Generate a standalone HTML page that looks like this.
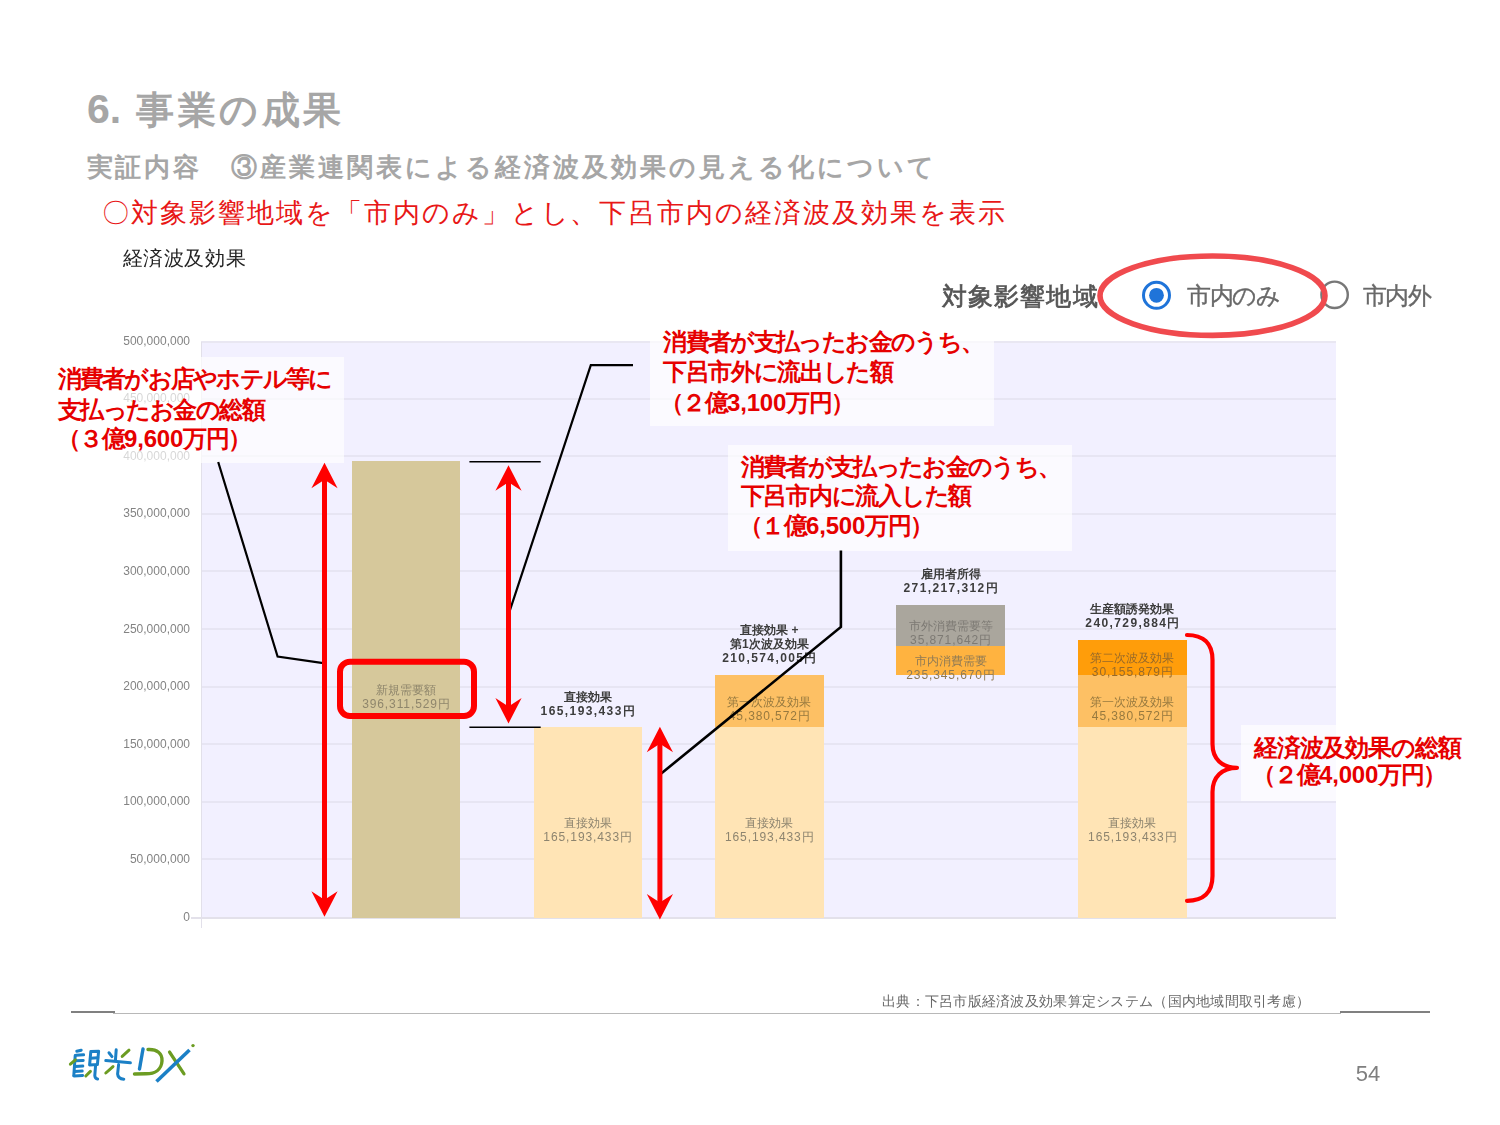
<!DOCTYPE html>
<html lang="ja">
<head>
<meta charset="utf-8">
<title>6. 事業の成果</title>
<style>
html,body{margin:0;padding:0;background:#fff;}
body{width:1500px;height:1125px;position:relative;overflow:hidden;font-family:"Liberation Sans",sans-serif;color:#000;}
.t{position:absolute;white-space:nowrap;line-height:1;margin:0;padding:0;}
.j{text-align:justify;text-align-last:justify;}
.title{left:87px;top:88.5px;font-size:38px;font-weight:bold;color:#a6a6a6;letter-spacing:3.6px;}
.sub{left:86.5px;top:153.5px;width:847px;font-size:26px;font-weight:bold;color:#a6a6a6;}
.lead{left:102.3px;top:199.5px;width:902.5px;font-size:27px;color:#e81717;}
.ctitle{left:122.5px;top:248px;width:123px;font-size:20px;color:#222;}
/* chart */
.plot{position:absolute;left:201px;top:341.3px;width:1135px;height:577.7px;background:#f2f0ff;}
.grid{position:absolute;left:0;width:1135px;height:2px;background:#e7e5f3;}
.ax{position:absolute;background:#e2e0ea;}
.yl{position:absolute;left:90px;width:100px;text-align:right;font-size:12px;line-height:12px;color:#838383;white-space:nowrap;}
.bar{position:absolute;width:108.5px;}
.bl{position:absolute;width:160px;text-align:center;font-size:12px;line-height:14px;color:#8d846f;white-space:nowrap;letter-spacing:.9px;}
.bl b{font-weight:normal;letter-spacing:0;}
.hl{position:absolute;width:180px;text-align:center;font-size:12px;line-height:14px;color:#3c3c3c;font-weight:bold;white-space:nowrap;letter-spacing:1.4px;}
.hl b{letter-spacing:0;}
.soft{filter:blur(.45px);}
/* annotations */
.box{position:absolute;background:rgba(255,255,255,.68);}
.an{position:absolute;white-space:nowrap;line-height:1;font-size:24px;font-weight:bold;color:#e60000;letter-spacing:-3px;}
.an i{font-style:normal;letter-spacing:-.2px;}
.an3{letter-spacing:-1.5px;}
svg{position:absolute;left:0;top:0;}
</style>
</head>
<body>

<div class="t title"><span style="display:inline-block;width:49px;font-size:41px;letter-spacing:0;">6.</span>事業の成果</div>
<div class="t j sub">実証内容　③産業連関表による経済波及効果の見える化について</div>
<div class="t j lead">〇対象影響地域を「市内のみ」とし、下呂市内の経済波及効果を表示</div>
<div class="t j ctitle soft">経済波及効果</div>

<!-- CHART-START -->
<div class="soft">
<div class="yl" style="top:910.5px">0</div>
<div class="yl" style="top:852.9px">50,000,000</div>
<div class="yl" style="top:795.3px">100,000,000</div>
<div class="yl" style="top:737.8px">150,000,000</div>
<div class="yl" style="top:680.2px">200,000,000</div>
<div class="yl" style="top:622.6px">250,000,000</div>
<div class="yl" style="top:565.0px">300,000,000</div>
<div class="yl" style="top:507.4px">350,000,000</div>
<div class="yl" style="top:449.9px">400,000,000</div>
<div class="yl" style="top:392.3px">450,000,000</div>
<div class="yl" style="top:334.7px">500,000,000</div>
</div>
<div class="plot">
<div class="grid" style="top:0;height:1.7px;background:#e9e7f2"></div>
<div class="grid" style="top:517.1px"></div>
<div class="grid" style="top:459.5px"></div>
<div class="grid" style="top:402.0px"></div>
<div class="grid" style="top:344.4px"></div>
<div class="grid" style="top:286.8px"></div>
<div class="grid" style="top:229.2px"></div>
<div class="grid" style="top:171.6px"></div>
<div class="grid" style="top:114.1px"></div>
<div class="grid" style="top:56.5px"></div>
</div>
<div class="ax" style="left:200.5px;top:342px;width:1px;height:586px"></div>
<div class="ax" style="left:191px;top:916.8px;width:1145px;height:2.2px;background:#e3e1ea"></div>
<div class="bar" style="left:351.8px;top:460.6px;height:457.4px;background:#d6c89b"></div>
<div class="bar" style="left:533.5px;top:727.3px;height:190.7px;background:#ffe4b5"></div>
<div class="bar" style="left:715.0px;top:674.5px;height:53.8px;background:#fdc064"></div>
<div class="bar" style="left:715.0px;top:727.3px;height:190.7px;background:#ffe4b5"></div>
<div class="bar" style="left:896.4px;top:604.7px;height:42.3px;background:#aaa69d"></div>
<div class="bar" style="left:896.4px;top:646.0px;height:28.8px;background:#ffb340"></div>
<div class="bar" style="left:1078.2px;top:639.8px;height:35.7px;background:#ff9d0a"></div>
<div class="bar" style="left:1078.2px;top:674.5px;height:53.8px;background:#fdc064"></div>
<div class="bar" style="left:1078.2px;top:727.3px;height:190.7px;background:#ffe4b5"></div>
<div class="soft">
<div class="bl" style="left:326.0px;top:682.8px;color:#8f866c"><b>新規需要額</b><br>396,311,529<b>円</b></div>
<div class="bl" style="left:507.7px;top:816.1px"><b>直接効果</b><br>165,193,433<b>円</b></div>
<div class="bl" style="left:689.3px;top:816.1px"><b>直接効果</b><br>165,193,433<b>円</b></div>
<div class="bl" style="left:689.3px;top:694.9px;color:#97793f"><b>第一次波及効果</b><br>45,380,572<b>円</b></div>
<div class="bl" style="left:870.6px;top:654.2px;color:#8f7a55"><b>市内消費需要</b><br>235,345,670<b>円</b></div>
<div class="bl" style="left:870.6px;top:619.3px;color:#7d7a74"><b>市外消費需要等</b><br>35,871,642<b>円</b></div>
<div class="bl" style="left:1052.4px;top:816.1px"><b>直接効果</b><br>165,193,433<b>円</b></div>
<div class="bl" style="left:1052.4px;top:694.9px;color:#97793f"><b>第一次波及効果</b><br>45,380,572<b>円</b></div>
<div class="bl" style="left:1052.4px;top:651.1px;color:#96692a"><b>第二次波及効果</b><br>30,155,879<b>円</b></div>
<div class="hl" style="left:497.7px;top:689.7px"><b>直接効果</b><br>165,193,433<b>円</b></div>
<div class="hl" style="left:679.3px;top:622.9px"><b>直接効果 +</b><br><b>第1次波及効果</b><br>210,574,005<b>円</b></div>
<div class="hl" style="left:860.6px;top:567.1px"><b>雇用者所得</b><br>271,217,312<b>円</b></div>
<div class="hl" style="left:1042.4px;top:602.2px"><b>生産額誘発効果</b><br>240,729,884<b>円</b></div>
</div>
<!-- CHART-END -->

<!-- ANNOT-START -->
<!-- radio row -->
<div class="t j soft" style="left:941.5px;top:283.5px;width:156px;font-size:25px;color:#555;-webkit-text-stroke:.7px #555;">対象影響地域</div>
<div class="t j soft" style="left:1187.2px;top:283.5px;width:91px;font-size:24px;color:#686868;letter-spacing:-2.5px;-webkit-text-stroke:.35px #686868;">市内のみ</div>
<div class="t j soft" style="left:1362.8px;top:283.5px;width:66.9px;font-size:24px;color:#686868;letter-spacing:-2.5px;-webkit-text-stroke:.35px #686868;">市内外</div>

<!-- translucent annotation boxes -->
<div class="box" style="left:50px;top:357px;width:294px;height:106px;"></div>
<div class="box" style="left:650px;top:324px;width:344px;height:102px;"></div>
<div class="box" style="left:728px;top:445px;width:344px;height:105.5px;"></div>
<div class="box" style="left:1241px;top:725px;width:230px;height:75.5px;"></div>

<!-- annotation 1 -->
<div class="an j" style="left:57.6px;top:366.7px;width:272.7px;">消費者がお店やホテル等に</div>
<div class="an j" style="left:57.6px;top:397.5px;width:205.4px;">支払ったお金の総額</div>
<div class="an an3" style="left:56.6px;top:427.1px;">（３億<i>9,600</i>万円）</div>
<!-- annotation 2 -->
<div class="an j" style="left:663.2px;top:329.5px;width:318.8px;">消費者が支払ったお金のうち、</div>
<div class="an j" style="left:663.2px;top:360.2px;width:227.6px;">下呂市外に流出した額</div>
<div class="an an3" style="left:659.6px;top:390.8px;">（２億<i>3,100</i>万円）</div>
<!-- annotation 3 -->
<div class="an j" style="left:740.7px;top:454.5px;width:318.3px;">消費者が支払ったお金のうち、</div>
<div class="an j" style="left:740.7px;top:483.8px;width:228.6px;">下呂市内に流入した額</div>
<div class="an an3" style="left:738.6px;top:514.1px;">（１億<i>6,500</i>万円）</div>
<!-- annotation 4 -->
<div class="an j" style="left:1254px;top:735.5px;width:204.6px;">経済波及効果の総額</div>
<div class="an an3" style="left:1251.6px;top:762.9px;">（２億<i>4,000</i>万円）</div>

<svg width="1500" height="1125" viewBox="0 0 1500 1125">
  <!-- radio buttons -->
  <g class="soft">
    <circle cx="1156.5" cy="295.3" r="13" fill="#fff" stroke="#1f74d9" stroke-width="3"/>
    <circle cx="1156.5" cy="295.3" r="7.4" fill="#1f74d9"/>
    <circle cx="1334.6" cy="294.8" r="13.2" fill="#fff" stroke="#777" stroke-width="2.4"/>
  </g>
  <!-- red ellipse highlight -->
  <ellipse cx="1212.5" cy="295.7" rx="112.5" ry="39.7" fill="none" stroke="#f04a4e" stroke-width="5.6"/>

  <!-- black leader lines -->
  <g fill="none" stroke="#000" stroke-linejoin="miter">
    <polyline points="218.2,462 277.6,656.6 325,663.4" stroke-width="2.2"/>
    <polyline points="633,365.2 590.8,365.2 509.9,610.4" stroke-width="2.2"/>
    <polyline points="840.9,550.4 840.9,627 660,774.5" stroke-width="2.6"/>
    <line x1="469.4" y1="461.7" x2="540.7" y2="461.7" stroke-width="1.5"/>
    <line x1="469.4" y1="727.3" x2="540.7" y2="727.3" stroke-width="1.5"/>
  </g>

  <!-- red arrows -->
  <g fill="#ff0000" stroke="none">
    <!-- arrow 1 -->
    <rect x="322" y="475" width="5" height="430"/>
    <path d="M324.5 462.7 L337.6 488.2 L324.5 479.7 L311.4 488.2 Z"/>
    <path d="M324.5 916.8 L337.6 891.3 L324.5 899.8 L311.4 891.3 Z"/>
    <!-- arrow 2 -->
    <rect x="506" y="478" width="5" height="232"/>
    <path d="M508.5 465.2 L521.6 490.7 L508.5 482.2 L495.4 490.7 Z"/>
    <path d="M508.5 723.6 L521.6 698.1 L508.5 706.6 L495.4 698.1 Z"/>
    <!-- arrow 3 -->
    <rect x="657.4" y="740" width="5" height="167"/>
    <path d="M659.9 726.8 L673 752.3 L659.9 743.8 L646.8 752.3 Z"/>
    <path d="M659.9 919.6 L673 894.1 L659.9 902.6 L646.8 894.1 Z"/>
  </g>

  <!-- red rounded rectangle -->
  <rect x="340" y="661.7" width="134" height="54.3" rx="10" ry="10" fill="none" stroke="#ff0000" stroke-width="6"/>

  <!-- red brace -->
  <path d="M1187 635 C1203 635 1212.5 643 1212.5 660 L1212.5 744 C1212.5 759 1222 767.8 1237 767.8 C1222 767.8 1212.5 777 1212.5 792 L1212.5 876 C1212.5 893 1203 900.8 1187 900.8"
        fill="none" stroke="#ff0000" stroke-width="4.2" stroke-linecap="round" stroke-linejoin="round"/>
</svg>
<!-- ANNOT-END -->

<!-- FOOTER-START -->
<div class="t j soft" style="left:882px;top:993.5px;width:428px;font-size:14px;color:#686868;">出典：下呂市版経済波及効果算定システム（国内地域間取引考慮）</div>
<div style="position:absolute;left:113px;top:1012.6px;width:1228px;height:1.2px;background:#b8b8b8;"></div>
<div style="position:absolute;left:71px;top:1010.7px;width:44px;height:2.8px;background:#808080;"></div>
<div style="position:absolute;left:1340px;top:1010.7px;width:89.5px;height:2.8px;background:#808080;"></div>
<div class="t" style="left:1355.8px;top:1063.2px;font-size:22px;color:#7f7f7f;">54</div>

<!-- logo: 観光DX -->
<svg width="1500" height="1125" viewBox="0 0 1500 1125" fill="none" stroke-linecap="round" stroke-linejoin="round">
  <g transform="translate(60,1035)">
    <!-- 観 left component (blue) -->
    <g stroke="#1b80c6" stroke-width="3">
      <path d="M15.2 20.5 L13.8 40.6"/>
      <path d="M16.8 16.2 L21.2 15.2"/>
      <path d="M16 20.3 L23.6 19.8"/>
      <path d="M15.6 25.8 L23.2 25.4"/>
      <path d="M15.2 31.4 L22.8 31"/>
      <path d="M14.6 36.4 L22.2 36"/>
      <path d="M14 41 L22.6 40.4"/>
      <!-- 見 -->
      <path d="M30.8 16.6 L38.6 16.2 L37.4 29.6 L29.6 30 Z"/>
      <path d="M30.4 23.2 L37.8 22.8"/>
      <path d="M35.6 30.2 L34.8 40.6 Q35 43.6 37.6 44"/>
      <!-- 光 -->
      <path d="M56.2 14.8 L55.4 25.6"/>
      <path d="M49 17.8 L52 21.6"/>
      <path d="M45.8 25.6 L70.4 27.8"/>
      <path d="M58.6 29.6 L57.6 39 Q58 43.6 63.8 44.2"/>
    </g>
    <!-- green accents -->
    <g stroke="#6c9c22" stroke-width="3">
      <path d="M10.4 29.2 L15.4 24.8"/>
      <path d="M25.8 41 L30.4 36.4"/>
      <path d="M62.2 21.4 L69 15.2"/>
      <path d="M45.8 38 L53 31.6"/>
    </g>
    <!-- D -->
    <path d="M83 14 L79.5 34" stroke="#1b80c6" stroke-width="3.4"/>
    <path d="M88 14.5 C97 14 102.5 18.5 102 26 C101.5 34.5 95 38.8 86 38.8 L74.5 39" stroke="#6c9c22" stroke-width="3.4"/>
    <!-- X -->
    <path d="M109.5 17 L124 38.8" stroke="#6c9c22" stroke-width="3.2"/>
    <path d="M96.5 46.5 L129.5 15" stroke="#1b80c6" stroke-width="3.6" stroke-linecap="butt"/>
    <circle cx="133" cy="10.6" r="1.7" fill="#6c9c22" stroke="none"/>
  </g>
</svg>
<!-- FOOTER-END -->

</body>
</html>
